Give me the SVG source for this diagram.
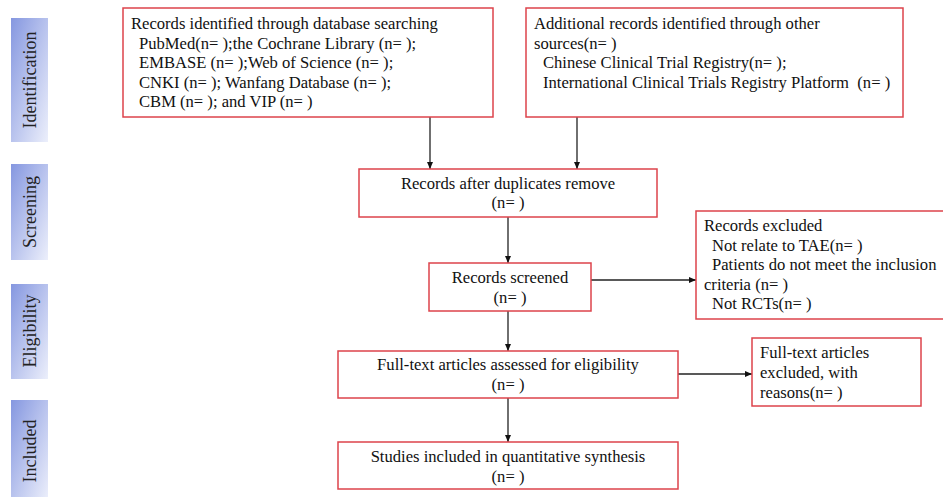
<svg xmlns="http://www.w3.org/2000/svg" width="943" height="497" viewBox="0 0 943 497" font-family="'Liberation Serif', 'Times New Roman', Times, serif">
<defs>
<linearGradient id="stage" x1="0" y1="0" x2="1" y2="1">
<stop offset="0" stop-color="#8597e0"/>
<stop offset="1" stop-color="#eceffb"/>
</linearGradient>
<marker id="arr" markerWidth="8" markerHeight="8" refX="7" refY="4" orient="auto" markerUnits="userSpaceOnUse">
<path d="M0,1 L7,4 L0,7 Z" fill="#111"/>
</marker>
<style>
.stage{fill:url(#stage);}
.stxt{font-size:18px;fill:#222;text-anchor:middle;}
.box{fill:#fff;stroke:#dd434b;stroke-width:1.5;}
.t{font-size:16.6px;fill:#111;}
.c{text-anchor:middle;}
.conn{stroke:#222;stroke-width:1.3;fill:none;marker-end:url(#arr);}
</style>
</defs>
<rect width="943" height="497" fill="#fff"/>

<g id="stage-identification">
<rect class="stage" x="11" y="18" width="37" height="124"/>
<text class="stxt" transform="translate(36,80) rotate(-90)">Identification</text>
</g>
<g id="stage-screening">
<rect class="stage" x="11" y="164" width="37" height="96"/>
<text class="stxt" transform="translate(36,212) rotate(-90)">Screening</text>
</g>
<g id="stage-eligibility">
<rect class="stage" x="11" y="284" width="37" height="95"/>
<text class="stxt" transform="translate(36,331) rotate(-90)">Eligibility</text>
</g>
<g id="stage-included">
<rect class="stage" x="11" y="400" width="37" height="100"/>
<text class="stxt" transform="translate(36,451) rotate(-90)">Included</text>
</g>

<g id="connectors">
<line class="conn" x1="430" y1="117" x2="430" y2="169"/>
<line class="conn" x1="577" y1="117" x2="577" y2="169"/>
<line class="conn" x1="508" y1="217" x2="508" y2="263"/>
<line class="conn" x1="591" y1="280" x2="696" y2="280"/>
<line class="conn" x1="508" y1="311" x2="508" y2="351"/>
<line class="conn" x1="678" y1="374" x2="752" y2="374"/>
<line class="conn" x1="508" y1="398" x2="508" y2="442"/>
</g>

<g id="n-database">
<rect class="box" x="123" y="8" width="370" height="109"/>
<text class="t" x="131" y="29">Records identified through database searching</text>
<text class="t" x="139" y="48.5">PubMed(n= );the Cochrane Library (n= );</text>
<text class="t" x="139" y="68">EMBASE (n= );Web of Science (n= );</text>
<text class="t" x="139" y="87.5">CNKI (n= ); Wanfang Database (n= );</text>
<text class="t" x="139" y="107">CBM (n= ); and VIP (n= )</text>
</g>

<g id="n-other">
<rect class="box" x="526" y="8" width="377" height="109"/>
<text class="t" x="534" y="29">Additional records identified through other</text>
<text class="t" x="534" y="48.5">sources(n= )</text>
<text class="t" x="543" y="68">Chinese Clinical Trial Registry(n= );</text>
<text class="t" x="543" y="87.5" xml:space="preserve">International Clinical Trials Registry Platform  (n= )</text>
</g>

<g id="n-duplicates">
<rect class="box" x="359" y="169" width="298" height="48"/>
<text class="t c" x="508" y="189">Records after duplicates remove</text>
<text class="t c" x="508" y="208">(n= )</text>
</g>

<g id="n-screened">
<rect class="box" x="429" y="263" width="162" height="48"/>
<text class="t c" x="510" y="283">Records screened</text>
<text class="t c" x="510" y="303">(n= )</text>
</g>

<g id="n-excluded">
<rect class="box" x="696" y="211" width="252" height="108"/>
<text class="t" x="704" y="231">Records excluded</text>
<text class="t" x="712" y="250.5">Not relate to TAE(n= )</text>
<text class="t" x="712" y="270">Patients do not meet the inclusion</text>
<text class="t" x="704" y="289.5">criteria (n= )</text>
<text class="t" x="712" y="309">Not RCTs(n= )</text>
</g>

<g id="n-fulltext">
<rect class="box" x="338" y="351" width="340" height="47"/>
<text class="t c" x="508" y="370">Full-text articles assessed for eligibility</text>
<text class="t c" x="508" y="390">(n= )</text>
</g>

<g id="n-fulltext-excluded">
<rect class="box" x="752" y="338" width="169" height="68"/>
<text class="t" x="760" y="358">Full-text articles</text>
<text class="t" x="760" y="378">excluded, with</text>
<text class="t" x="760" y="398">reasons(n= )</text>
</g>

<g id="n-included">
<rect class="box" x="338" y="442" width="340" height="47"/>
<text class="t c" x="508" y="462">Studies included in quantitative synthesis</text>
<text class="t c" x="508" y="482">(n= )</text>
</g>
</svg>
